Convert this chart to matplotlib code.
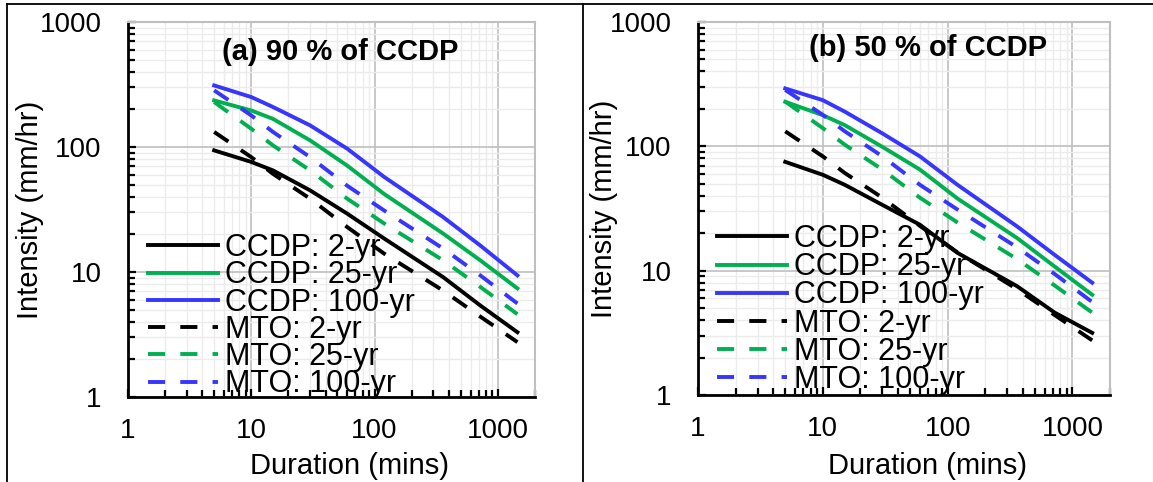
import numpy as np
import matplotlib
matplotlib.use("Agg")
import matplotlib.pyplot as plt
from matplotlib.lines import Line2D
from matplotlib.ticker import FixedLocator, LogLocator, FuncFormatter, NullFormatter

plt.rcParams['font.family'] = ['Liberation Sans', 'DejaVu Sans']

# 継続時間 (分)
durations = [5, 10, 15, 30, 60, 120, 360, 720, 1440]

# (a) 90 % of CCDP
ccdp90_2yr = [94, 76, 65, 45, 29.3, 18.5, 9.1, 5.4, 3.3]
ccdp90_25yr = [236, 196, 168, 113, 71, 42, 20.3, 12.4, 7.4]
ccdp90_100yr = [311, 251, 209, 149, 97, 57.5, 27.5, 16.3, 9.4]

# (b) 50 % of CCDP
ccdp50_2yr = [75, 59, 49, 33.8, 23.4, 13.9, 7.5, 4.6, 3.16]
ccdp50_25yr = [228, 178, 148, 99, 65, 38, 18.3, 10.8, 6.4]
ccdp50_100yr = [292, 235, 190, 127, 83, 49, 22.7, 13.4, 8.0]

# MTO (両パネル共通)
mto_2yr = [132, 83, 61, 38.6, 22.9, 14, 7.1, 4.4, 2.75]
mto_25yr = [229, 140, 103, 65, 38.6, 24.4, 12.4, 7.6, 4.6]
mto_100yr = [284, 179, 132, 83, 49, 31, 15.4, 9.4, 5.6]

labels = ['CCDP: 2-yr', 'CCDP: 25-yr', 'CCDP: 100-yr',
          'MTO: 2-yr', 'MTO: 25-yr', 'MTO: 100-yr']
titles = ['(a) 90 % of CCDP', '(b) 50 % of CCDP']
decade_ticks = [1, 10, 100, 1000]

colors = ['black', '#00B050', '#3636FF']
dash = (0, (4.4, 3.9))

fig = plt.figure(figsize=(11.53, 4.82), dpi=100)
ax_a = fig.add_axes([0.111, 0.1763, 0.353, 0.778])
ax_b = fig.add_axes([0.6054, 0.1805, 0.3573, 0.7739])

# (軸, CCDP系列, タイトル位置, 凡例位置, 凡例行間, xラベル位置, yラベル位置)
panels = [
    (ax_a, [ccdp90_2yr, ccdp90_25yr, ccdp90_100yr], (0.521, 0.92), (0.049, -0.006), -0.09,
     (0.545, -0.147), (-0.206, 0.5)),
    (ax_b, [ccdp50_2yr, ccdp50_25yr, ccdp50_100yr], (0.558, 0.93), (0.046, 0.0), -0.06,
     (0.556, -0.153), (-0.194, 0.5)),
]
mto = [mto_2yr, mto_25yr, mto_100yr]

for k, (ax, ccdp, title_pos, leg_pos, leg_sp, xl_pos, yl_pos) in enumerate(panels):
    for i in range(3):
        ax.plot(durations, ccdp[i], color=colors[i], lw=2.8, label=labels[i])
    for i in range(3):
        ax.plot(durations, mto[i], color=colors[i], lw=2.8, linestyle=dash,
                label=labels[3 + i])

    ax.set_xscale('log')
    ax.set_yscale('log')
    ax.set_xlim(1, 2000)
    ax.set_ylim(1, 1000)

    # 目盛り
    fmt = FuncFormatter(lambda v, p: f"{v:g}")
    for axis in (ax.xaxis, ax.yaxis):
        axis.set_major_locator(FixedLocator(decade_ticks))
        axis.set_major_formatter(fmt)
        axis.set_minor_locator(LogLocator(base=10, subs=np.arange(2, 10)))
        axis.set_minor_formatter(NullFormatter())
    ax.tick_params(which='both', direction='in', top=False, right=False,
                   width=1.6, color='black', labelsize=20)
    ax.tick_params(which='major', length=6)
    ax.tick_params(which='minor', length=5)
    ax.tick_params(axis='y', pad=19)
    ax.tick_params(axis='x', pad=15)

    # グリッド
    ax.grid(True, which='major', color='#BFBFBF', lw=1.2)
    ax.grid(True, which='minor', color='#EBEBEB', lw=1.0)
    ax.set_axisbelow(True)

    for s in ('left', 'bottom'):
        ax.spines[s].set_linewidth(2.0)
        ax.spines[s].set_color('black')
    for s in ('top', 'right'):
        ax.spines[s].set_linewidth(1.5)
        ax.spines[s].set_color('#BFBFBF')

    ax.set_xlabel('Duration (mins)', fontsize=21)
    ax.set_ylabel('Intensity (mm/hr)', fontsize=21)
    ax.xaxis.set_label_coords(*xl_pos)
    ax.yaxis.set_label_coords(*yl_pos)
    ax.text(title_pos[0], title_pos[1], titles[k],
            transform=ax.transAxes, ha='center', va='center',
            fontsize=21, fontweight='bold')

    ax.legend(loc='lower left', bbox_to_anchor=leg_pos, frameon=False,
              fontsize=22, handlelength=2.3, handletextpad=0.23,
              labelspacing=leg_sp, borderpad=0, borderaxespad=0)

# 外枠と仕切り線
fig.add_artist(Line2D([7 / 1153, 7 / 1153], [0, 1 - 4 / 482], color='black', lw=1.3))
fig.add_artist(Line2D([7 / 1153, 1], [1 - 4 / 482, 1 - 4 / 482], color='black', lw=1.3))
fig.add_artist(Line2D([583 / 1153, 583 / 1153], [0, 1 - 4 / 482], color='black', lw=1.3))

fig.savefig("out.png", dpi=100)
